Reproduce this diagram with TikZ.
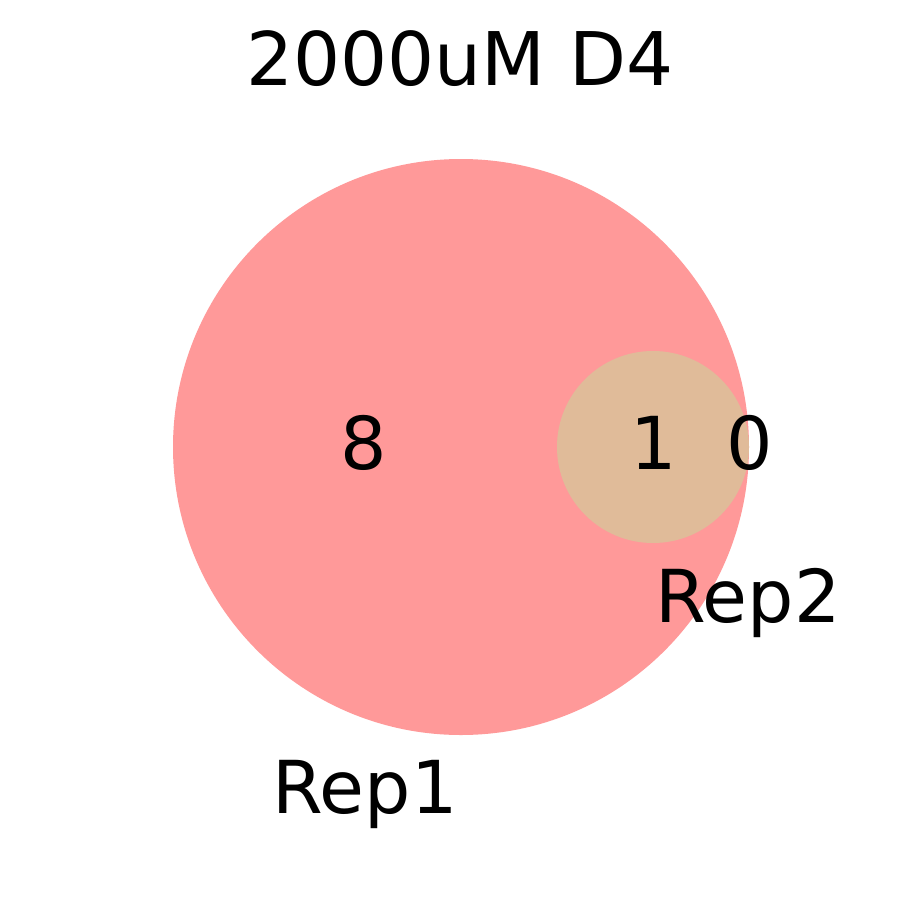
\documentclass[tikz,border=0pt]{standalone}
\usepackage{fontspec}
\setmainfont{DejaVu Sans}
\definecolor{setA}{HTML}{FF9999}
\definecolor{setAB}{HTML}{E0BB99}
\tikzset{
  lbl/.style={anchor=base, inner sep=0pt, font=\fontsize{73}{73}\selectfont},
  ttl/.style={anchor=base, inner sep=0pt, font=\fontsize{74}{74}\selectfont}
}
\begin{document}
\begin{tikzpicture}[x=1pt,y=-1pt]
\useasboundingbox (0,0) rectangle (900,900);
\fill[white] (0,0) rectangle (900,900);
\fill[setA] (461,447) circle[radius=288];
\fill[setAB] (653,447) circle[radius=96];
\node[ttl] (title) at (460,85) {2000uM D4};
\node[lbl] (n8) at (364,469) {8};
\node[lbl] (n1) at (654,469) {1};
\node[lbl] (n0) at (750,469) {0};
\node[lbl] (rep2) at (748,622) {Rep2};
\node[lbl] (rep1) at (365,813) {Rep1};
\end{tikzpicture}
\end{document}
